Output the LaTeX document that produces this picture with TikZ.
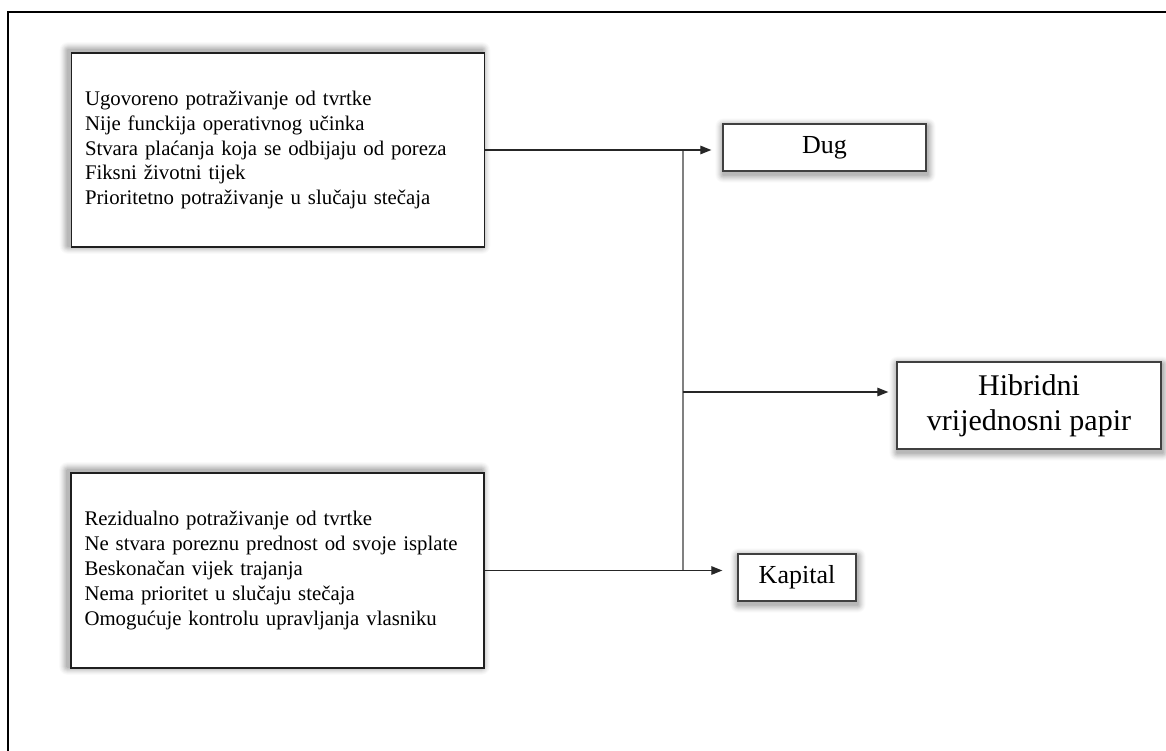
\documentclass[tikz,border=0pt]{standalone}
\usepackage{fontspec}
\setmainfont{Liberation Serif}
\usetikzlibrary{arrows.meta,backgrounds,calc}
\pgfdeclarelayer{bgzero}
\pgfsetlayers{bgzero,background,main}
\tikzset{
  bigbox/.style={draw=black!88,line width=1.6pt,fill=white,rectangle,
    minimum width=413pt,align=left,text width=386pt,inner xsep=13.5pt,
    font=\fontsize{20.8pt}{24.8pt}\selectfont},
  smallbox/.style={draw=black!75,line width=1.3pt,fill=white,rectangle,
    inner sep=0pt,align=center},
  conn/.style={draw=black!85,line width=1.2pt},
  vconn/.style={draw=black!50,line width=1.3pt},
  arr/.style={conn,-{Triangle[length=11pt,width=8.5pt]}},
  frameline/.style={draw=black,line width=1.5pt},
}
\newcommand{\softshadow}[3]{%
  \foreach \k/\op in {1/0.06,2/0.05,3/0.045,4/0.04,5/0.035,6/0.03,7/0.025,8/0.02}{%
    \fill[black,opacity=\op,rounded corners=\k pt]
      ([shift={(#2-\k,#3-\k)}]#1.north west) rectangle ([shift={(#2+\k,#3+\k)}]#1.south east);
  }%
}
\begin{document}
\begin{tikzpicture}[x=1pt,y=-1pt]
\useasboundingbox (0,0) rectangle (1166,751);
\begin{pgfonlayer}{bgzero}
  \fill[white] (0,0) rectangle (1166,751);
\end{pgfonlayer}
% outer frame (only top and left edges visible)
\draw[frameline] (8,751) -- (8,12) -- (1166,12);

% boxes
\node[bigbox,minimum height=194pt] (top) at (278,150) {%
Ugovoreno potraživanje od tvrtke\\
Nije funckija operativnog učinka\\
Stvara plaćanja koja se odbijaju od poreza\\
Fiksni životni tijek\\
Prioritetno potraživanje u slučaju stečaja};

\node[bigbox,minimum height=195pt] (bot) at (277.5,570.5) {%
Rezidualno potraživanje od tvrtke\\
Ne stvara poreznu prednost od svoje isplate\\
Beskonačan vijek trajanja\\
Nema prioritet u slučaju stečaja\\
Omogućuje kontrolu upravljanja vlasniku};

\node[smallbox,minimum width=203pt,minimum height=47pt,
  font=\fontsize{26pt}{30pt}\selectfont] (dug) at (824.5,147.5) {Dug};
\node[smallbox,minimum width=264pt,minimum height=87pt,
  font=\fontsize{30pt}{35pt}\selectfont] (hib) at (1029,405.5) {Hibridni\\vrijednosni papir};
\node[smallbox,minimum width=118pt,minimum height=47pt,
  font=\fontsize{26pt}{30pt}\selectfont] (kap) at (797,577.5) {Kapital};

\begin{pgfonlayer}{background}
  \softshadow{top}{-3}{-2}
  \softshadow{bot}{-3}{-2}
  \softshadow{dug}{1}{3}
  \softshadow{hib}{1}{3}
  \softshadow{kap}{1}{3}
\end{pgfonlayer}

% connectors
\coordinate (jt) at (683,150);
\coordinate (jm) at (683,392);
\coordinate (jb) at (683,570.5);
\draw[vconn] (jt) -- (jb);
\draw[arr,shorten >=11pt] (top.east) -- (top.east -| dug.west);
\draw[arr,shorten >=15pt] (bot.east) -- (bot.east -| kap.west);
\draw[arr,shorten >=8pt] (jm) -- (jm -| hib.west);
\end{tikzpicture}
\end{document}
